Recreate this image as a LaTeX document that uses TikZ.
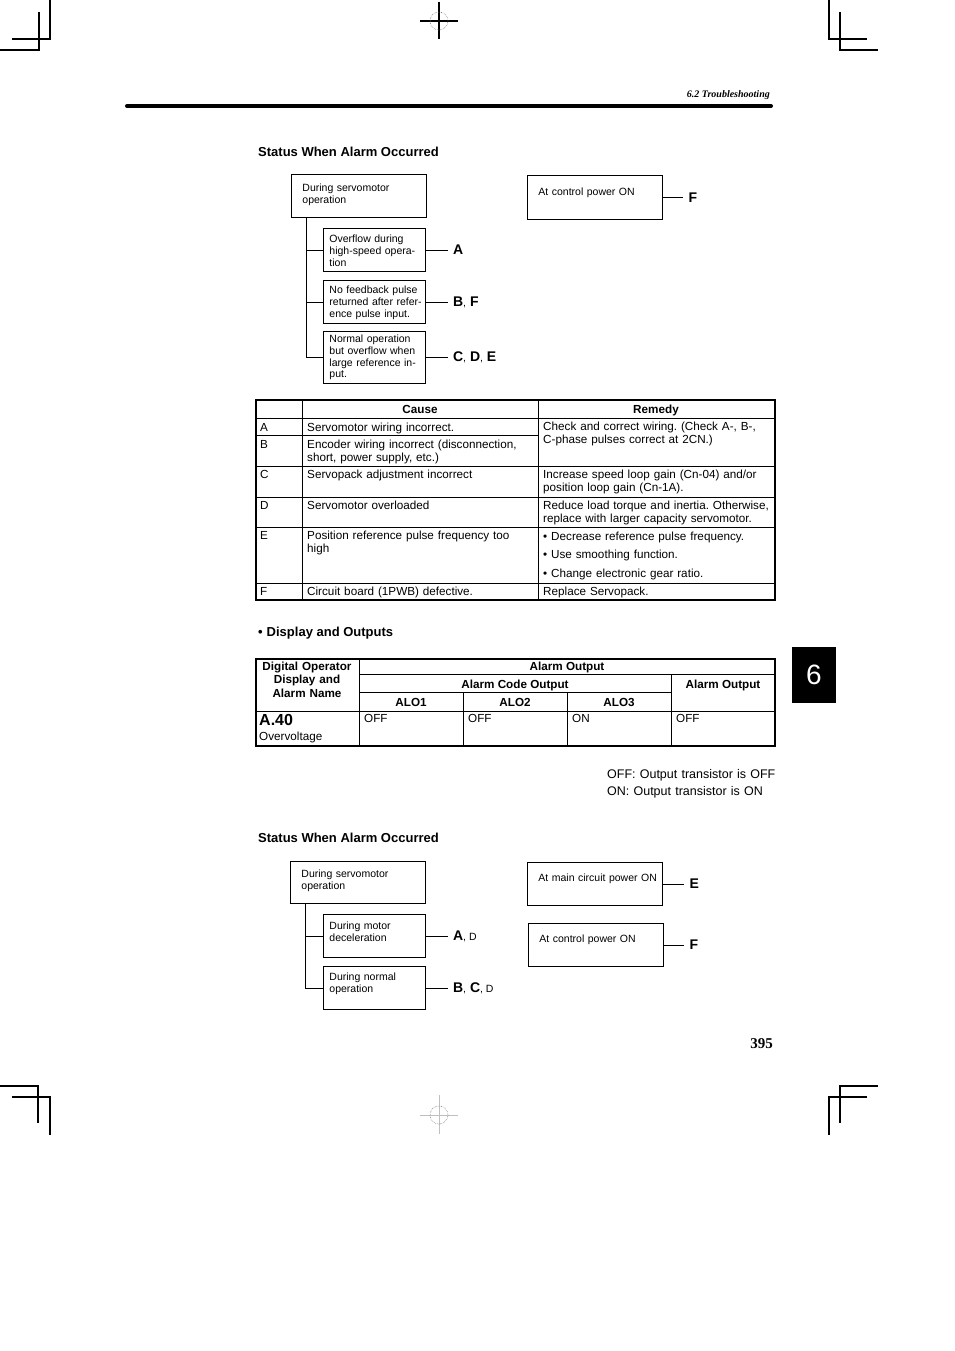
\documentclass[tikz,border=0pt]{standalone}
\usepackage{fontspec}
\setmainfont{Liberation Sans}
\newfontfamily\hdrfont{Liberation Serif}
\usetikzlibrary{positioning}
\frenchspacing
\begin{document}
\begin{tikzpicture}[x=1pt,y=-1pt, lbl/.style={anchor=west, inner xsep=5pt, inner ysep=0pt, font=\fontsize{14}{16}\selectfont\bfseries}]
\tikzstyle{stat}=[draw, line width=0.9pt, anchor=north west, inner ysep=0pt, align=left, font=\fontsize{10.5}{11.6}\selectfont]
\tikzstyle{wide}=[stat, inner xsep=11pt, text width=112.5pt]
\tikzstyle{narrow}=[stat, inner xsep=6pt, text width=90pt]
\tikzstyle{ttl}=[anchor=base west, inner sep=0pt, font=\fontsize{13}{15}\selectfont\bfseries]
\tikzstyle{txt}=[anchor=base west, inner sep=0pt, align=left, text width=232pt, font=\fontsize{11.7}{13}\selectfont]
\tikzstyle{hd}=[anchor=base, inner sep=0pt, align=center, font=\fontsize{11.7}{13.5}\selectfont\bfseries]
\tikzstyle{thin}=[line width=0.7pt]
\tikzstyle{thick}=[line width=1.7pt]
\tikzstyle{crop}=[line width=1.1pt]
\tikzstyle{wire}=[line width=0.9pt]
\useasboundingbox (0,0) rectangle (954,1351);
% crop marks
\draw[crop] (50,0) -- (50,39) -- (12,39);
\draw[crop] (39,12) -- (39,50) -- (0,50);
\draw[crop] (829,0) -- (829,39) -- (867,39);
\draw[crop] (840,12) -- (840,50) -- (878,50);
\draw[crop] (439,2) -- (439,39) (420,21) -- (458,21);
\draw[gray, densely dotted, line width=0.6pt] (439,21) circle (9pt);
\draw[crop] (0,1086) -- (38,1086) -- (38,1123);
\draw[crop] (12,1097) -- (50,1097) -- (50,1135);
\draw[crop] (878,1086) -- (840,1086) -- (840,1123);
\draw[crop] (867,1097) -- (829,1097) -- (829,1135);
\draw[gray!50, line width=0.6pt] (439,1095) -- (439,1134) (420,1115) -- (458,1115);
\draw[gray, densely dotted, line width=0.6pt] (439,1115) circle (9pt);
% header
\node[anchor=base east, inner sep=0pt, font=\hdrfont\fontsize{10}{12}\selectfont\bfseries\itshape] (hdr) at (770,98) {6.2 Troubleshooting};
\draw[line width=4pt, line cap=round] (127,106) -- (771,106);
% status 1
\node[ttl] (s1) at (258,156.5) {Status When Alarm Occurred};
\node[wide, text height=17.5pt, text depth=25.5pt] (run1) at (291,174) {During servomotor\\operation};
\node[narrow, text height=14.5pt, text depth=28.5pt] (ovf) at (323,228) {Overflow during\\high-speed opera-\\tion};
\node[narrow, text height=13.5pt, text depth=29.5pt] (nfb) at (323,280) {No feedback pulse\\\mbox{returned after refer-}\\ence pulse input.};
\node[narrow, text height=11.5pt, text depth=40.5pt] (nop) at (323,331) {Normal operation\\but overflow when\\large reference in-\\put.};
\node[wide, text height=20.5pt, text depth=23.5pt] (cpw1) at (527,175) {At control power ON};
\coordinate (tr1) at (306,217);
\foreach \b in {ovf,nfb,nop}{\draw[wire] (tr1) |- (\b.west);}
\node[lbl, right=22pt of ovf] (la) {A};
\node[lbl, right=22pt of nfb] (lbf) {B{\fontsize{10.5}{12}\mdseries,} F};
\node[lbl, right=22pt of nop] (lcde) {C{\fontsize{10.5}{12}\mdseries,} D{\fontsize{10.5}{12}\mdseries,} E};
\node[lbl, right=21pt of cpw1] (lf1) {F};
\foreach \i/\j in {ovf/la,nfb/lbf,nop/lcde,cpw1/lf1}{\draw[wire] (\i.east) -- (\j.west);}
% cause / remedy table
\draw[thick] (256,400) rectangle (775,600);
\draw[thin] (256,418) -- (775,418) (256,435) -- (538,435) (256,466) -- (775,466) (256,497) -- (775,497)
  (256,527) -- (775,527) (256,583) -- (775,583) (302,400) -- (302,600) (538,400) -- (538,600);
\node[hd] (hc) at (420,413) {Cause};
\node[hd] (hr) at (656,413) {Remedy};
\foreach \k/\y in {A/431,B/448,C/478,D/509,E/539,F/595}{\node[txt, text width=40pt] (k\k) at (260,\y) {\k};}
\node[txt] (ca) at (307,431) {Servomotor wiring incorrect.};
\node[txt] (cb) at (307,448) {Encoder wiring incorrect (disconnection,\\short, power supply, etc.)};
\node[txt] (cc) at (307,478) {Servopack adjustment incorrect};
\node[txt] (cd) at (307,509) {Servomotor overloaded};
\node[txt] (ce) at (307,539) {Position reference pulse frequency too\\high};
\node[txt] (cf) at (307,595) {Circuit board (1PWB) defective.};
\node[txt] (rab) at (543,430) {Check and correct wiring. (Check A-, B-,\\C-phase pulses correct at 2CN.)};
\node[txt] (rc) at (543,478) {Increase speed loop gain (Cn-04) and/or\\position loop gain (Cn-1A).};
\node[txt] (rd) at (543,509) {Reduce load torque and inertia. Otherwise,\\replace with larger capacity servomotor.};
\node[txt] (re) at (543,540) {\textbullet\ Decrease reference pulse frequency.\\[5.5pt]\textbullet\ Use smoothing function.\\[5.5pt]\textbullet\ Change electronic gear ratio.};
\node[txt] (rf) at (543,595) {Replace Servopack.};
% display and outputs
\node[ttl] (s2) at (258,636.6) {\textbullet\hspace{4pt}Display and Outputs};
\draw[thick] (256,659) rectangle (775,746);
\draw[thin] (359,674) -- (775,674) (359,692) -- (671,692) (256,711) -- (775,711) (359,659) -- (359,746)
  (463,692) -- (463,746) (567,692) -- (567,746) (671,674) -- (671,746);
\node[hd, text width=100pt] (dop) at (307,670) {Digital Operator\\Display and\\Alarm Name};
\node[hd] (ao) at (567,670) {Alarm Output};
\node[hd] (aco) at (515,688) {Alarm Code Output};
\node[hd] (ao2) at (723,688) {Alarm Output};
\foreach \n/\x in {1/411,2/515,3/619}{\node[hd] (alo\n) at (\x,706) {ALO\n};}
\node[txt, font=\fontsize{16}{18}\selectfont\bfseries] (a40) at (259,725.5) {A.40};
\node[txt] (ovv) at (259,740) {Overvoltage};
\foreach \v/\x [count=\c] in {OFF/364,OFF/468,ON/572,OFF/676}{\node[txt, text width=60pt] (st\c) at (\x,722) {\v};}
\node[txt, font=\fontsize{12.5}{17}\selectfont, text width=180pt] (nt) at (607,778.5) {OFF: Output transistor is OFF\\ON: Output transistor is ON};
\node[fill=black, text=white, minimum width=44pt, minimum height=56pt, inner sep=0pt, font=\fontsize{28}{30}\selectfont] (tab) at (814,675) {6};
% status 2
\node[ttl] (s3) at (258,842.6) {Status When Alarm Occurred};
\node[wide, text height=16.5pt, text depth=25.5pt] (run3) at (290,861) {During servomotor\\operation};
\node[narrow, text height=15.5pt, text depth=27.5pt] (dec) at (323,914) {During motor\\deceleration};
\node[narrow, text height=14.5pt, text depth=28.5pt] (nrm) at (323,966) {During normal\\operation};
\node[wide, text height=19.5pt, text depth=23.5pt] (mcp) at (527,862) {\mbox{At main circuit power ON}};
\node[wide, text height=19.5pt, text depth=23.5pt] (cpw3) at (528,923) {At control power ON};
\coordinate (tr3) at (305,903);
\foreach \b in {dec,nrm}{\draw[wire] (tr3) |- (\b.west);}
\node[lbl, right=22pt of dec] (lad) {A{\fontsize{10.5}{12}\mdseries, D}};
\node[lbl, right=22pt of nrm] (lbcd) {B{\fontsize{10.5}{12}\mdseries,} C{\fontsize{10.5}{12}\mdseries, D}};
\node[lbl, right=22pt of mcp] (le) {E};
\node[lbl, right=21pt of cpw3] (lf3) {F};
\foreach \i/\j in {dec/lad,nrm/lbcd,mcp/le,cpw3/lf3}{\draw[wire] (\i.east) -- (\j.west);}
\node[anchor=base east, inner sep=0pt, font=\hdrfont\fontsize{15}{17}\selectfont\bfseries] (pg) at (773,1048) {395};
\end{tikzpicture}
\end{document}
